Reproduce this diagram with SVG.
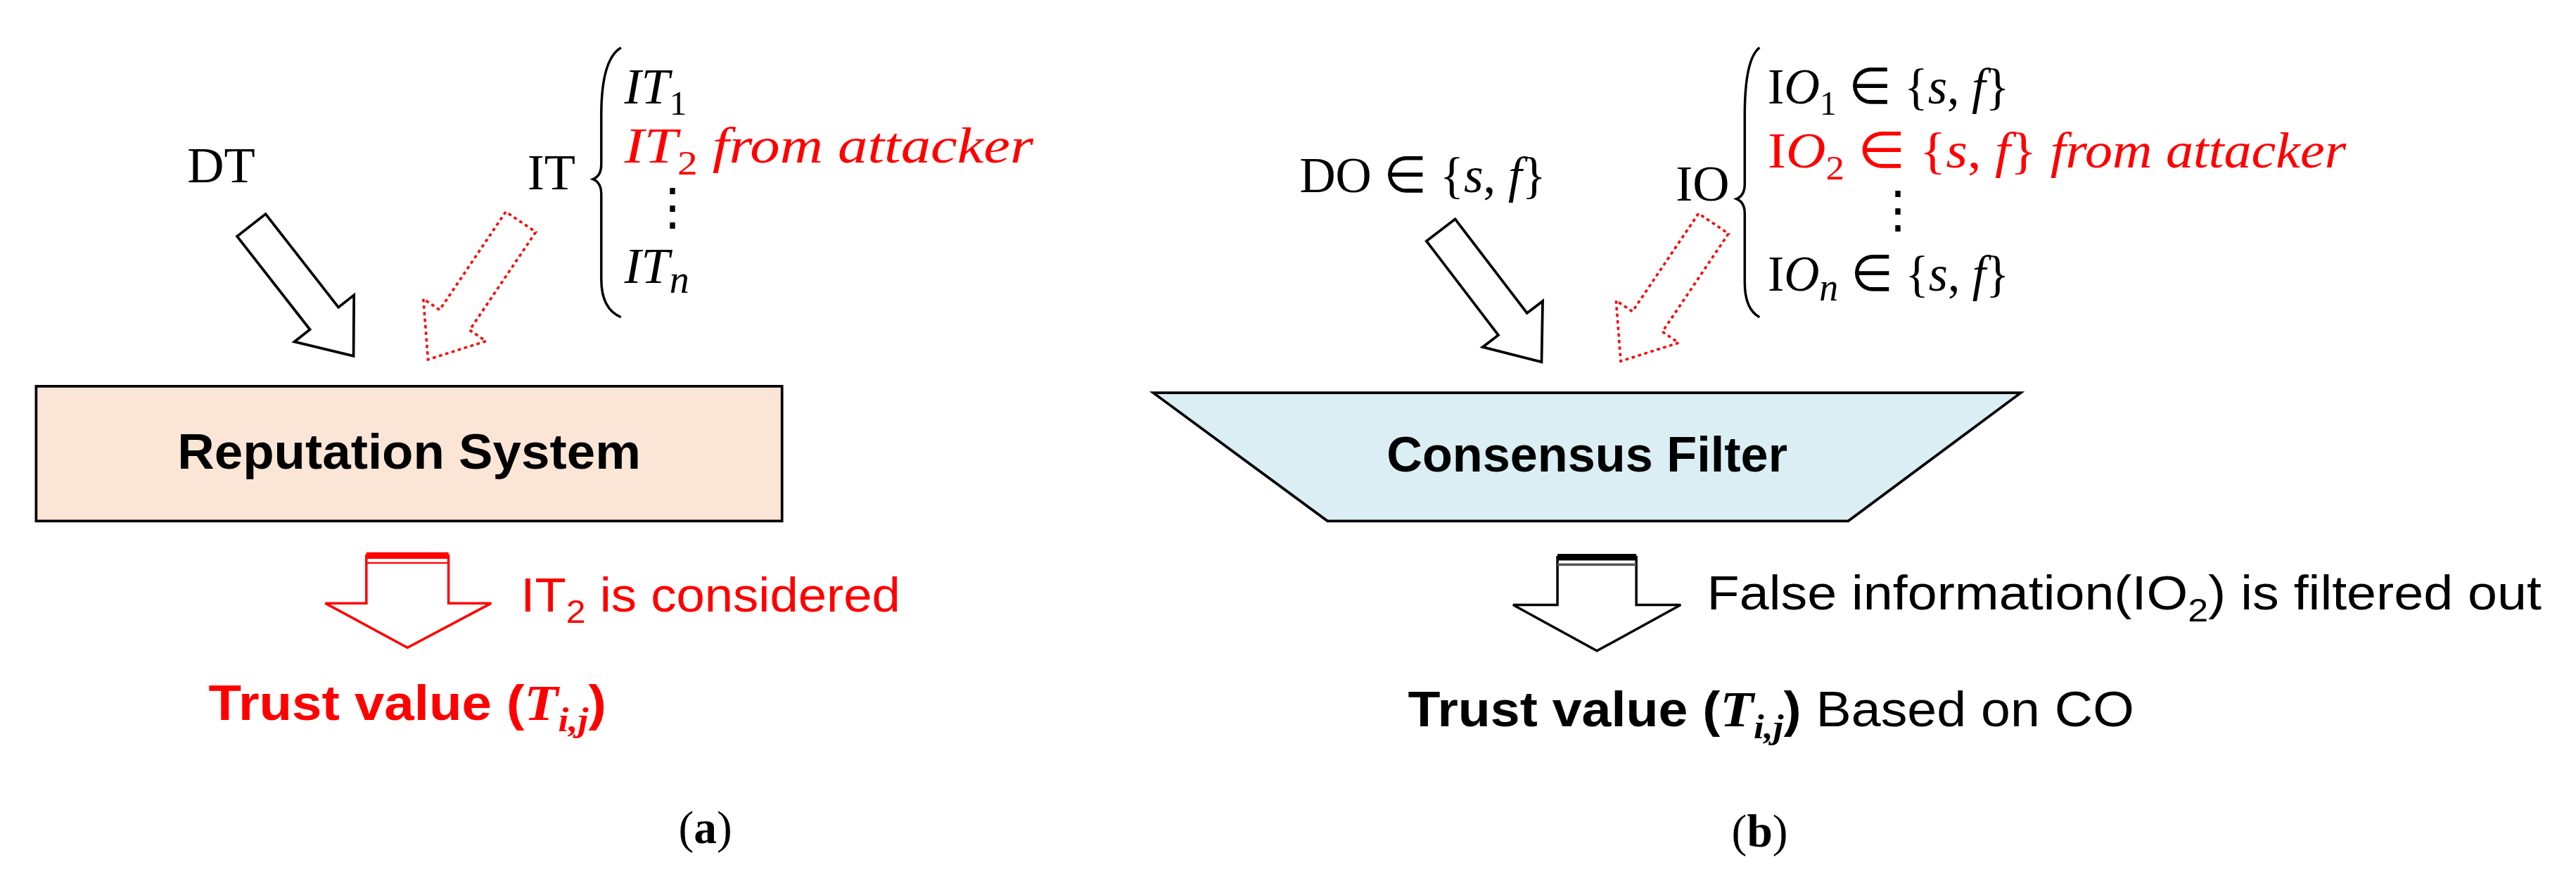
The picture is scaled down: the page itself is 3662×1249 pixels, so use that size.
<svg xmlns="http://www.w3.org/2000/svg" width="3662" height="1249" viewBox="0 0 3662 1249">
<style>
.m{font-family:"Liberation Serif",serif;font-style:italic;font-size:31px}
.s{font-family:"Liberation Serif",serif;font-size:31px}
.b{font-family:"Liberation Sans",sans-serif;font-weight:bold;font-size:30px}
.n{font-family:"Liberation Sans",sans-serif;font-size:29px}
.red{fill:#ff0000}
.cap{font-family:"Liberation Serif",serif;font-size:28px}
.arr{fill:#fff;stroke:#000;stroke-width:1.6}
.darr{fill:#fff;stroke:#ff0000;stroke-width:1.5;stroke-dasharray:2 2}
</style>
<defs>
<path id="ba" d="M0,-11 L72,-11 L72,-23 L101,0 L72,23 L72,11 L0,11 Z"/>
</defs>
<rect width="3662" height="1249" fill="#fff"/>
<g transform="scale(2.3355)">
<g id="connectors">
<use href="#ba" class="arr" transform="translate(153,137) rotate(52)"/>
<use href="#ba" class="darr" transform="translate(317,135) rotate(124)"/>
<use href="#ba" class="arr" transform="translate(877,140) rotate(52.6)"/>
<use href="#ba" class="darr" transform="translate(1043,136) rotate(124)"/>
<g id="outA">
<path d="M223,338 L273,338 L273,367 L299,367 L248,394 L198,367 L223,367 Z" fill="#fff" stroke="#ff0000" stroke-width="1.5"/>
<rect x="223" y="336" width="50" height="4" fill="#ff0000"/>
<line x1="223" y1="342.5" x2="273" y2="342.5" stroke="#ff0000" stroke-width="1"/>
</g>
<g id="outB">
<path d="M948,339 L996,339 L996,368 L1023,368 L972,396 L921,368 L948,368 Z" fill="#fff" stroke="#000" stroke-width="1.5"/>
<rect x="948" y="337" width="48" height="4" fill="#000"/>
<line x1="948" y1="343.5" x2="996" y2="343.5" stroke="#555" stroke-width="1.5"/>
</g>
</g>
<g id="labelsA">
<text class="s" x="114" y="111">DT</text>
<text class="s" x="321" y="115">IT</text>
<path d="M378,29 Q366,36 366,70 L366,100 Q366,107 361,109 Q366,111 366,118 L366,170 Q366,188 378,193" fill="none" stroke="#000" stroke-width="1.5"/>
<text class="m" x="380" y="63">IT<tspan font-size="21" font-style="normal" dy="7">1</tspan></text>
<text class="m red" x="380" y="99" textLength="249" lengthAdjust="spacingAndGlyphs">IT<tspan font-size="21" font-style="normal" dy="7">2</tspan><tspan dy="-7"> from attacker</tspan></text>
<text class="s" x="394" y="136" font-size="16">⋮</text>
<text class="m" x="380" y="172">IT<tspan font-size="24" dy="6">n</tspan></text>
</g>
<g id="reputation">
<rect x="22" y="235" width="454" height="82" fill="#fbe5d6" stroke="#000" stroke-width="1.6"/>
<text class="b" x="108" y="285" textLength="282" lengthAdjust="spacingAndGlyphs">Reputation System</text>
</g>
<g id="trustA">
<text class="n red" x="317" y="372" textLength="231" lengthAdjust="spacingAndGlyphs">IT<tspan font-size="20" dy="7">2</tspan><tspan dy="-7"> is considered</tspan></text>
<text class="b red" x="127" y="438" textLength="242" lengthAdjust="spacingAndGlyphs">Trust value (<tspan class="m" font-weight="bold">T<tspan font-size="21" dy="7">i,j</tspan></tspan><tspan dy="-7">)</tspan></text>
<text class="cap" x="413" y="513">(<tspan font-weight="bold">a</tspan>)</text>
</g>
<g id="labelsB">
<text class="s" x="791" y="117" textLength="150" lengthAdjust="spacingAndGlyphs">DO ∈ {<tspan font-style="italic">s</tspan>, <tspan font-style="italic">f</tspan>}</text>
<text class="s" x="1020" y="122">IO</text>
<path d="M1071,29 Q1062,36 1062,70 L1062,112 Q1062,119 1057,121 Q1062,123 1062,130 L1062,172 Q1062,188 1071,193" fill="none" stroke="#000" stroke-width="1.5"/>
<text class="s" x="1076" y="63" textLength="147" lengthAdjust="spacingAndGlyphs">I<tspan font-style="italic">O</tspan><tspan font-size="21" dy="7">1</tspan><tspan dy="-7"> ∈ {</tspan><tspan font-style="italic">s</tspan>, <tspan font-style="italic">f</tspan>}</text>
<text class="s red" x="1076" y="102" textLength="352" lengthAdjust="spacingAndGlyphs">I<tspan font-style="italic">O</tspan><tspan font-size="21" dy="7">2</tspan><tspan dy="-7"> ∈ {</tspan><tspan font-style="italic">s</tspan>, <tspan font-style="italic">f</tspan>} <tspan font-style="italic">from attacker</tspan></text>
<text class="s" x="1140" y="138" font-size="16">⋮</text>
<text class="s" x="1076" y="177" textLength="147" lengthAdjust="spacingAndGlyphs">I<tspan font-style="italic">O</tspan><tspan font-size="24" font-style="italic" dy="6">n</tspan><tspan dy="-6"> ∈ {</tspan><tspan font-style="italic">s</tspan>, <tspan font-style="italic">f</tspan>}</text>
</g>
<g id="consensus">
<path d="M702,239 L1230,239 L1125,317 L808,317 Z" fill="#daeef3" stroke="#000" stroke-width="1.6"/>
<text class="b" x="844" y="287" textLength="244" lengthAdjust="spacingAndGlyphs">Consensus Filter</text>
</g>
<g id="trustB">
<text class="n" x="1039" y="371" textLength="508" lengthAdjust="spacingAndGlyphs">False information(IO<tspan font-size="20" dy="7">2</tspan><tspan dy="-7">) is filtered out</tspan></text>
<text class="b" x="857" y="442" textLength="442" lengthAdjust="spacingAndGlyphs">Trust value (<tspan class="m" font-weight="bold">T<tspan font-size="21" dy="7">i,j</tspan></tspan><tspan dy="-7">) </tspan><tspan font-weight="normal"> Based on CO</tspan></text>
<text class="cap" x="1054" y="515">(<tspan font-weight="bold">b</tspan>)</text>
</g>
</g>
</svg>
